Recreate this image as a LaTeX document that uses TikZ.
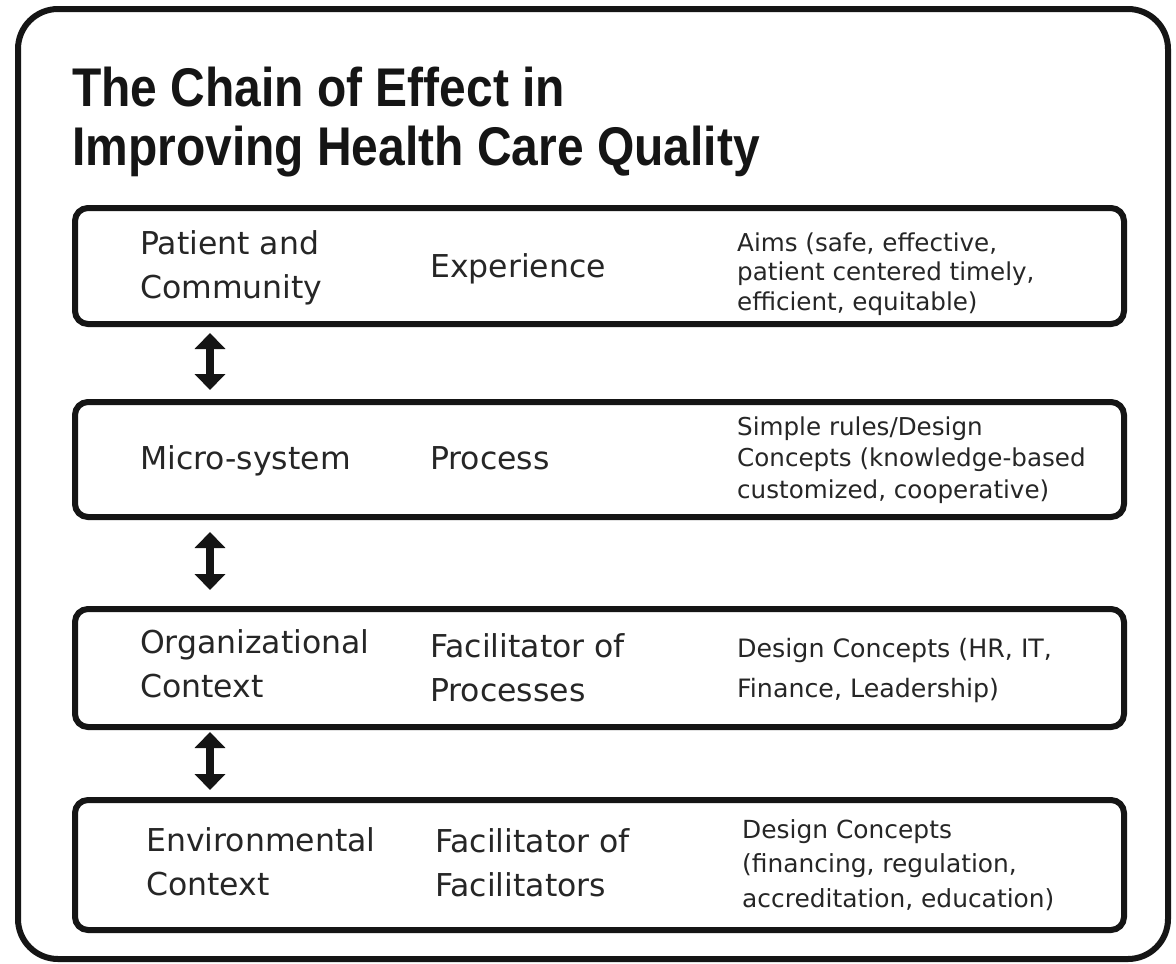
\documentclass[tikz,border=0pt]{standalone}
\usepackage{fontspec}
\setmainfont{DejaVu Sans}
\newfontfamily\titlefont[FakeStretch=0.88]{Liberation Sans}
\usetikzlibrary{arrows.meta}
\definecolor{ink}{HTML}{151515}
\definecolor{txt}{HTML}{262626}
\begin{document}
\begin{tikzpicture}[x=1pt,y=-1pt,
  frame/.style={draw=ink, line width=6pt, rounded corners=40pt},
  rowbox/.style={draw=ink, line width=6pt, rounded corners=13pt, rectangle, inner sep=0pt, minimum width=1049pt},
  ttl/.style={anchor=base west, align=left, inner sep=0pt, text=ink, font=\titlefont\bfseries\fontsize{54.5}{59}\selectfont},
  lbl/.style={anchor=base west, align=left, inner sep=0pt, text=txt, font=\fontsize{31.5}{44}\selectfont},
  aim/.style={anchor=base west, align=left, inner sep=0pt, text=txt},
  updown/.style={draw=ink, line width=8pt, {Triangle[width=30pt,length=16pt]}-{Triangle[width=30pt,length=16pt]}}
]
\useasboundingbox (0,0) rectangle (1176,964);
\fill[white] (0,0) rectangle (1176,964);
\draw[frame] (18,9) rectangle (1168,959);

% base anchor of a multi-line node = baseline of its last line
\node[ttl] (title) at (72,165) {The Chain of Effect in\\Improving Health Care Quality};

\node[rowbox, minimum height=116pt] (b1) at (599.5,266) {};
\node[rowbox, minimum height=115pt] (b2) at (599.5,459.5) {};
\node[rowbox, minimum height=118pt] (b3) at (599.5,668) {};
\node[rowbox, minimum height=130pt] (b4) at (599.5,865) {};

\node[lbl] (l1) at (140,298) {Patient and\\Community};
\node[lbl] (l2) at (140,469) {Micro-system};
\node[lbl] (l3) at (140,697) {Organizational\\Context};
\node[lbl] (l4) at (146,895) {Environmental\\Context};

\node[lbl] (m1) at (430,277) {Experience};
\node[lbl] (m2) at (430,469) {Process};
\node[lbl] (m3) at (430,701) {Facilitator of\\Processes};
\node[lbl] (m4) at (435,896) {Facilitator of\\Facilitators};

\node[aim, font=\fontsize{24.6}{29.5}\selectfont] (r1) at (737,310) {Aims (safe, effective,\\patient centered timely,\\efficient, equitable)};
\node[aim, font=\fontsize{24.6}{31.5}\selectfont] (r2) at (737,498) {Simple rules/Design\\Concepts (knowledge-based\\customized, cooperative)};
\node[aim, font=\fontsize{25.3}{40}\selectfont] (r3) at (737,697) {Design Concepts (HR, IT,\\Finance, Leadership)};
\node[aim, font=\fontsize{24.9}{34.5}\selectfont] (r4) at (742,907) {Design Concepts\\(financing, regulation,\\accreditation, education)};

\coordinate (a1t) at (210,333);
\coordinate (a1b) at (210,390);
\coordinate (a2t) at (210,532);
\coordinate (a2b) at (210,590);
\coordinate (a3t) at (210,732);
\coordinate (a3b) at (210,790);
\draw[updown] (a1t) -- (a1b);
\draw[updown] (a2t) -- (a2b);
\draw[updown] (a3t) -- (a3b);
\end{tikzpicture}
\end{document}
